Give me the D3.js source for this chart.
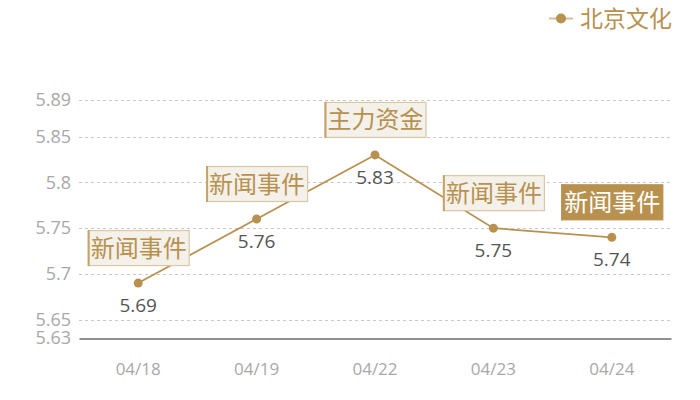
<html>
<head>
<script src="https://cdn.jsdelivr.net/npm/d3@7"></script>
<style>
    body {
        margin: 0;
        background: #fff;
    }
    svg {
        display: block;
        font-family: "Open Sans", "Noto Sans CJK SC", sans-serif;
    }
    .grid line {
        stroke: #c8c8c8;
        stroke-dasharray: 3, 3;
    }
</style>
</head>
<body>

<svg id='chart' width=700 height=400></svg>

<script>

    var seriesName = '北京文化';
    var dates = ['04/18', '04/19', '04/22', '04/23', '04/24'];
    var prices = [5.69, 5.76, 5.83, 5.75, 5.74];
    var notes = ['新闻事件', '新闻事件', '主力资金', '新闻事件', '新闻事件'];
    var highlighted = [false, false, false, false, true];
    var yTicks = [5.63, 5.65, 5.7, 5.75, 5.8, 5.85, 5.89];

    var gold = '#b8914f';

    var svg = d3.select('#chart');

    var x = d3.scaleBand()
            .domain(dates)
            .range([79, 671]);

    var y = d3.scaleLinear()
            .domain([5.63, 5.89])
            .range([338, 100]);

    // dashed grid lines
    svg.append('g')
        .attr('class', 'grid')
        .selectAll('line')
        .data(yTicks.slice(1))
        .enter()
        .append('line')
        .attr('x1', 79)
        .attr('x2', 671)
        .attr('y1', function(d) { return Math.round(y(d)) + 0.5; })
        .attr('y2', function(d) { return Math.round(y(d)) + 0.5; });

    // y axis labels
    var yAxis = svg.append('g')
        .attr('transform', 'translate(71,0)')
        .call(d3.axisLeft(y).tickValues(yTicks).tickSize(0).tickPadding(0)
            .tickFormat(function(d) { return String(d); }));
    yAxis.select('.domain').remove();
    yAxis.selectAll('text')
        .attr('fill', '#a8a8a8')
        .style('font-size', '18px')
        .style('font-family', '"Open Sans", sans-serif');

    // x axis
    var xAxis = svg.append('g')
        .attr('transform', 'translate(0,' + (Math.round(y(5.63)) + 0.5) + ')')
        .call(d3.axisBottom(x).tickSize(0).tickPadding(24));
    xAxis.select('.domain')
        .attr('stroke', '#222')
        .attr('stroke-width', 1);
    xAxis.selectAll('text')
        .attr('fill', '#a8a8a8')
        .style('font-size', '17px')
        .style('font-family', '"Open Sans", sans-serif');

    var cx = function(d, i) { return x(dates[i]) + x.bandwidth() / 2; };
    var cy = function(d) { return y(d); };

    // line
    svg.append('path')
        .datum(prices)
        .attr('fill', 'none')
        .attr('stroke', gold)
        .attr('stroke-width', 1.8)
        .attr('d', d3.line().x(cx).y(cy));

    // points
    svg.selectAll('.dot')
        .data(prices)
        .enter()
        .append('circle')
        .attr('class', 'dot')
        .attr('cx', cx)
        .attr('cy', cy)
        .attr('r', 4.5)
        .attr('fill', gold);

    // value labels
    svg.selectAll('.val')
        .data(prices)
        .enter()
        .append('text')
        .attr('class', 'val')
        .attr('x', cx)
        .attr('y', function(d) { return y(d) + 29; })
        .attr('text-anchor', 'middle')
        .attr('fill', '#555')
        .style('font-size', '19px')
        .text(function(d) { return d; });

    // note boxes above each point
    var boxW = 101, boxH = 35;
    var boxes = svg.selectAll('.note')
        .data(prices)
        .enter()
        .append('g')
        .attr('class', 'note')
        .attr('transform', function(d, i) {
            return 'translate(' + (cx(d, i) - boxW / 2) + ',' + (y(d) - 18 - boxH) + ')';
        });

    boxes.append('rect')
        .attr('x', 0.5)
        .attr('y', 0.5)
        .attr('width', boxW)
        .attr('height', boxH)
        .attr('fill', function(d, i) { return highlighted[i] ? gold : '#f4f0ea'; })
        .attr('stroke', function(d, i) { return highlighted[i] ? gold : '#dcc7a4'; })
        .attr('stroke-width', 1.2);

    boxes.append('line')
        .attr('x1', 1)
        .attr('x2', 1)
        .attr('y1', 0)
        .attr('y2', boxH + 1)
        .attr('stroke', function(d, i) { return highlighted[i] ? gold : '#c6a36a'; })
        .attr('stroke-width', 2);

    boxes.append('text')
        .attr('x', boxW / 2 + 0.5)
        .attr('y', boxH / 2 + 9)
        .attr('text-anchor', 'middle')
        .attr('fill', function(d, i) { return highlighted[i] ? '#fff' : gold; })
        .style('font-size', '24px')
        .style('font-family', '"Noto Sans CJK SC", sans-serif')
        .text(function(d, i) { return notes[i]; });

    // legend
    var legend = svg.append('g');
    legend.append('line')
        .attr('x1', 549).attr('x2', 573)
        .attr('y1', 18.5).attr('y2', 18.5)
        .attr('stroke', '#d6bf98')
        .attr('stroke-width', 2);
    legend.append('circle')
        .attr('cx', 561).attr('cy', 18.5)
        .attr('r', 5)
        .attr('fill', gold);
    legend.append('text')
        .attr('x', 580)
        .attr('y', 27)
        .attr('fill', gold)
        .style('font-size', '23px')
        .style('font-family', '"Noto Sans CJK SC", sans-serif')
        .text(seriesName);

</script>

</body>
</html>
